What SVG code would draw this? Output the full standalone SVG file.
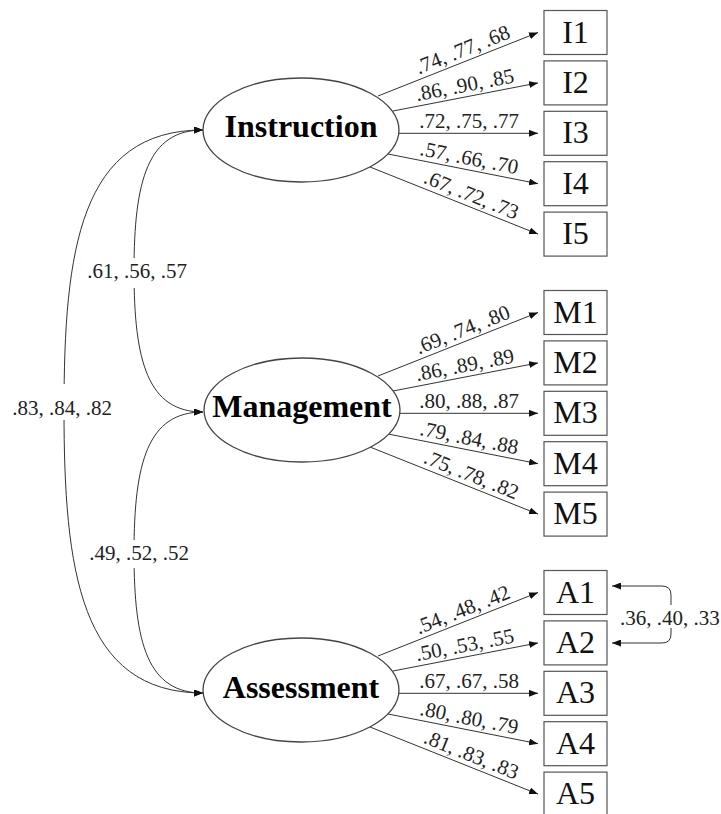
<svg xmlns="http://www.w3.org/2000/svg" width="721" height="814" viewBox="0 0 721 814">
<style>
.factor ellipse{fill:#fff;stroke:#444;stroke-width:1.3}
.factor text{font-family:"Liberation Serif","Times New Roman",serif;font-weight:bold;font-size:32px;fill:#000;text-anchor:middle}
.item rect{fill:#fff;stroke:#555;stroke-width:1.2}
.item text{font-family:"Liberation Serif","Times New Roman",serif;font-size:32px;fill:#111;text-anchor:middle}
.conn path,.conn line{fill:none;stroke:#333;stroke-width:1}
.arr{marker-end:url(#ah)}
.bi{marker-start:url(#ah);marker-end:url(#ah)}
.lbl{font-family:"Liberation Serif","Times New Roman",serif;font-size:21px;fill:#222;text-anchor:middle}
.gap{fill:#fff;stroke:none}
</style>
<defs>
<marker id="ah" markerUnits="userSpaceOnUse" markerWidth="9" markerHeight="7" refX="9" refY="3.5" orient="auto-start-reverse">
<path d="M0,0 L9,3.5 L0,7 z" fill="#111"/>
</marker>
</defs>
<rect width="721" height="814" fill="#fff"/>

<g id="connectors" class="conn">
<!-- covariances -->
<path class="bi" d="M203,130 C80,130 64,250 64,410 C64,570 80,693 203,693"/>
<path class="bi" d="M203,130 C148,130 134,180 134,271 C134,362 148,412 203,412"/>
<path class="bi" d="M203,412 C148,412 134,462 134,553 C134,644 148,693 203,693"/>
<path class="bi" d="M612,586 L662,586 Q671,586 671,595 L671,634 Q671,643 662,643 L612,643"/>
<rect class="gap" x="10" y="384" width="104" height="36"/>
<text class="lbl" x="62" y="415">.83, .84, .82</text>
<rect class="gap" x="86" y="258" width="102" height="30"/>
<text class="lbl" x="137" y="278">.61, .56, .57</text>
<rect class="gap" x="88" y="540" width="102" height="28"/>
<text class="lbl" x="139" y="560">.49, .52, .52</text>
<rect class="gap" x="618" y="605" width="103" height="23"/>
<text class="lbl" x="620" y="625" style="text-anchor:start">.36, .40, .33</text>

<!-- Instruction loadings -->
<line class="arr" x1="378" y1="96" x2="538" y2="32.5"/>
<line class="arr" x1="393" y1="111" x2="538" y2="82.9"/>
<line class="arr" x1="399" y1="133.3" x2="538" y2="133.3"/>
<line class="arr" x1="388" y1="154" x2="538" y2="183.7"/>
<line class="arr" x1="370" y1="167" x2="538" y2="234.1"/>
<text class="lbl" transform="translate(467,60.7) rotate(-21.65)" y="-5">.74, .77, .68</text>
<text class="lbl" transform="translate(467,96.7) rotate(-10.97)" y="-5">.86, .90, .85</text>
<text class="lbl" transform="translate(469,133.3)" y="-5">.72, .75, .77</text>
<text class="lbl" transform="translate(467,169.6) rotate(11.2)" y="-5">.57, .66, .70</text>
<text class="lbl" transform="translate(467,205.7) rotate(21.77)" y="-5">.67, .72, .73</text>

<!-- Management loadings -->
<line class="arr" x1="378" y1="376" x2="538" y2="312.5"/>
<line class="arr" x1="393" y1="391" x2="538" y2="362.9"/>
<line class="arr" x1="399" y1="413.3" x2="538" y2="413.3"/>
<line class="arr" x1="388" y1="434" x2="538" y2="463.7"/>
<line class="arr" x1="370" y1="447" x2="538" y2="514.1"/>
<text class="lbl" transform="translate(467,340.7) rotate(-21.65)" y="-5">.69, .74, .80</text>
<text class="lbl" transform="translate(467,376.7) rotate(-10.97)" y="-5">.86, .89, .89</text>
<text class="lbl" transform="translate(469,413.3)" y="-5">.80, .88, .87</text>
<text class="lbl" transform="translate(467,449.6) rotate(11.2)" y="-5">.79, .84, .88</text>
<text class="lbl" transform="translate(467,485.7) rotate(21.77)" y="-5">.75, .78, .82</text>

<!-- Assessment loadings -->
<line class="arr" x1="378" y1="656" x2="538" y2="592.5"/>
<line class="arr" x1="393" y1="671" x2="538" y2="642.9"/>
<line class="arr" x1="399" y1="693.3" x2="538" y2="693.3"/>
<line class="arr" x1="388" y1="714" x2="538" y2="743.7"/>
<line class="arr" x1="370" y1="727" x2="538" y2="794.1"/>
<text class="lbl" transform="translate(467,620.7) rotate(-21.65)" y="-5">.54, .48, .42</text>
<text class="lbl" transform="translate(467,656.7) rotate(-10.97)" y="-5">.50, .53, .55</text>
<text class="lbl" transform="translate(469,693.3)" y="-5">.67, .67, .58</text>
<text class="lbl" transform="translate(467,729.6) rotate(11.2)" y="-5">.80, .80, .79</text>
<text class="lbl" transform="translate(467,765.7) rotate(21.77)" y="-5">.81, .83, .83</text>
</g>

<g id="instruction" class="factor"><ellipse cx="301" cy="130" rx="98" ry="52"/><text x="301" y="137">Instruction</text></g>
<g id="management" class="factor"><ellipse cx="302" cy="410" rx="98" ry="52"/><text x="302" y="417">Management</text></g>
<g id="assessment" class="factor"><ellipse cx="301" cy="690" rx="98" ry="52"/><text x="301" y="698">Assessment</text></g>

<g id="I1" class="item"><rect x="544" y="10.5" width="63" height="44"/><text x="575.5" y="42.5">I1</text></g>
<g id="I2" class="item"><rect x="544" y="60.9" width="63" height="44"/><text x="575.5" y="92.9">I2</text></g>
<g id="I3" class="item"><rect x="544" y="111.3" width="63" height="44"/><text x="575.5" y="143.3">I3</text></g>
<g id="I4" class="item"><rect x="544" y="161.7" width="63" height="44"/><text x="575.5" y="193.7">I4</text></g>
<g id="I5" class="item"><rect x="544" y="212.1" width="63" height="44"/><text x="575.5" y="244.1">I5</text></g>

<g id="M1" class="item"><rect x="544" y="290.5" width="63" height="44"/><text x="575.5" y="322.5">M1</text></g>
<g id="M2" class="item"><rect x="544" y="340.9" width="63" height="44"/><text x="575.5" y="372.9">M2</text></g>
<g id="M3" class="item"><rect x="544" y="391.3" width="63" height="44"/><text x="575.5" y="423.3">M3</text></g>
<g id="M4" class="item"><rect x="544" y="441.7" width="63" height="44"/><text x="575.5" y="473.7">M4</text></g>
<g id="M5" class="item"><rect x="544" y="492.1" width="63" height="44"/><text x="575.5" y="524.1">M5</text></g>

<g id="A1" class="item"><rect x="544" y="570.5" width="63" height="44"/><text x="575.5" y="602.5">A1</text></g>
<g id="A2" class="item"><rect x="544" y="620.9" width="63" height="44"/><text x="575.5" y="652.9">A2</text></g>
<g id="A3" class="item"><rect x="544" y="671.3" width="63" height="44"/><text x="575.5" y="703.3">A3</text></g>
<g id="A4" class="item"><rect x="544" y="721.7" width="63" height="44"/><text x="575.5" y="753.7">A4</text></g>
<g id="A5" class="item"><rect x="544" y="772.1" width="63" height="44"/><text x="575.5" y="804.1">A5</text></g>
</svg>
